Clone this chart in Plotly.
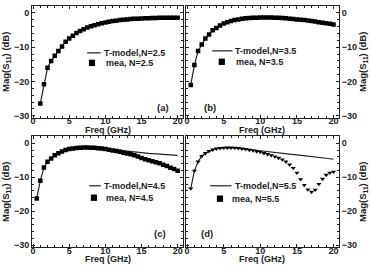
import plotly.graph_objects as go

# ---------------- data ----------------
freq_a = [1, 1.5, 2, 2.5, 3, 3.5, 4, 4.5, 5, 5.5, 6, 6.5, 7, 7.5, 8, 8.5, 9, 9.5, 10,
          10.5, 11, 11.5, 12, 12.5, 13, 13.5, 14, 14.5, 15, 15.5, 16, 16.5, 17, 17.5,
          18, 18.5, 19, 19.5, 20]
mea_a = [-26.4, -20.8, -16.0, -14.0, -12.5, -11.1, -9.8, -8.4, -7.5, -6.7, -5.9, -5.3,
         -4.8, -4.3, -3.9, -3.6, -3.3, -3.0, -2.8, -2.6, -2.4, -2.3, -2.1, -2.0, -1.9,
         -1.8, -1.75, -1.7, -1.65, -1.6, -1.55, -1.5, -1.5, -1.45, -1.45, -1.4, -1.4,
         -1.4, -1.4]
model_a = mea_a

freq_b = [0.5, 1, 1.5, 2, 2.5, 3, 3.5, 4, 4.5, 5, 5.5, 6, 6.5, 7, 7.5, 8, 8.5, 9, 9.5,
          10, 10.5, 11, 11.5, 12, 12.5, 13, 13.5, 14, 14.5, 15, 15.5, 16, 16.5, 17,
          17.5, 18, 18.5, 19, 19.5, 20]
mea_b = [-21.0, -15.2, -11.1, -9.2, -7.5, -6.3, -5.1, -4.4, -3.7, -3.1, -2.7, -2.4,
         -2.1, -1.9, -1.7, -1.6, -1.5, -1.45, -1.4, -1.35, -1.35, -1.35, -1.35, -1.4,
         -1.45, -1.5, -1.6, -1.7, -1.8, -1.9, -2.0, -2.1, -2.25, -2.4, -2.55, -2.7,
         -2.85, -3.0, -3.2, -3.4]
model_b = mea_b

freq_c = freq_b
mea_c = [-16.2, -11.0, -7.1, -5.4, -4.5, -3.5, -2.9, -2.4, -2.0, -1.7, -1.5, -1.4,
         -1.3, -1.25, -1.25, -1.3, -1.35, -1.45, -1.55, -1.7, -1.9, -2.1, -2.3, -2.5,
         -2.75, -3.0, -3.25, -3.55, -3.9, -4.3, -4.7, -5.0, -5.3, -5.6, -5.9, -6.3,
         -6.7, -7.2, -7.6, -8.1]
freq_model_c = [0.5, 1, 1.5, 2, 2.5, 3, 3.5, 4, 4.5, 5, 6, 7, 8, 9, 10, 11, 12, 13, 14,
                15, 16, 17, 18, 19, 20]
model_c = [-16.2, -11.0, -7.1, -5.4, -4.5, -3.5, -2.9, -2.4, -2.0, -1.7, -1.4, -1.25,
           -1.3, -1.4, -1.6, -1.85, -2.1, -2.35, -2.55, -2.75, -2.95, -3.1, -3.25,
           -3.4, -3.55]

freq_d = freq_b
mea_d = [-13.3, -8.1, -5.4, -3.8, -2.9, -2.3, -1.9, -1.6, -1.45, -1.35, -1.3, -1.3,
         -1.35, -1.45, -1.6, -1.75, -1.95, -2.15, -2.4, -2.6, -2.9, -3.2, -3.55, -3.9,
         -4.3, -4.8, -5.4, -6.3, -7.3, -8.7, -10.6, -12.3, -13.6, -14.3, -13.7, -12.0,
         -10.5, -9.3, -8.7, -8.4]
freq_model_d = [0.5, 1, 1.5, 2, 2.5, 3, 3.5, 4, 4.5, 5, 6, 7, 8, 9, 10, 11, 12, 13, 14,
                15, 16, 17, 18, 19, 20]
model_d = [-13.3, -8.1, -5.4, -3.8, -2.9, -2.3, -1.9, -1.6, -1.45, -1.35, -1.3, -1.45,
           -1.7, -1.95, -2.2, -2.5, -2.75, -3.0, -3.2, -3.4, -3.6, -3.85, -4.1, -4.4,
           -4.7]

n_labels = ["2.5", "3.5", "4.5", "5.5"]
panel_labels = ["(a)", "(b)", "(c)", "(d)"]
model_freqs = [freq_a, freq_b, freq_model_c, freq_model_d]
model_vals = [model_a, model_b, model_c, model_d]
mea_freqs = [freq_a, freq_b, freq_c, freq_d]
mea_vals = [mea_a, mea_b, mea_c, mea_d]
symbols = ["square", "square", "square", "triangle-down"]

# ---------------- layout ----------------
W, H = 371, 266
ML, MR, MT, MB = 26, 28, 5, 16
PW, PH = W - ML - MR, H - MT - MB


def xd(a, b):
    return ((a - ML) / PW, (b - ML) / PW)


def yd(top, bottom):
    return ((H - MB - bottom) / PH, (H - MB - top) / PH)


xdom = [xd(26, 182), xd(185, 343)]
row_px = [(5, 117), (136, 247)]
ydom = [yd(*r) for r in row_px]
title_px = [129.5, 259.5]
tick_standoff = [-5, -5]
FONT = "Liberation Sans, Arial, sans-serif"
INK = "#222222"

lab_pos = [(0.87, 0.09), (0.16, 0.09), (0.845, 0.125), (0.14, 0.125)]
# legend sample geometry in axis-domain fractions
leg_geo = [
    dict(lx0=0.365, lx1=0.455, ly=0.58, tx=0.462, sx=0.397, sy=0.49, mx=0.474),
    dict(lx0=0.171, lx1=0.304, ly=0.598, tx=0.31, sx=0.234, sy=0.50, mx=0.316),
    dict(lx0=0.378, lx1=0.455, ly=0.554, tx=0.462, sx=0.41, sy=0.446, mx=0.474),
    dict(lx0=0.158, lx1=0.297, ly=0.554, tx=0.304, sx=0.222, sy=0.4375, mx=0.285),
]

fig = go.Figure()
for i in range(4):
    col, row = i % 2, i // 2
    ax = "" if i == 0 else str(i + 1)
    fig.add_trace(go.Scatter(x=model_freqs[i], y=model_vals[i], mode="lines",
                             line=dict(color=INK, width=1.2),
                             name=f"T-model,N={n_labels[i]}", showlegend=False,
                             xaxis="x" + ax, yaxis="y" + ax))
    fig.add_trace(go.Scatter(x=mea_freqs[i], y=mea_vals[i], mode="markers",
                             marker=dict(symbol=symbols[i], color="black", size=4.5,
                                         line=dict(width=0)),
                             name=f"mea, N={n_labels[i]}", showlegend=False,
                             xaxis="x" + ax, yaxis="y" + ax))
    common = dict(showline=True, linecolor=INK, linewidth=1, mirror="allticks",
                  ticks="inside", ticklen=3, tickcolor=INK, showgrid=False, zeroline=False,
                  tickfont=dict(family=FONT, size=9, color=INK, weight="bold"))
    fig.layout["xaxis" + ax] = dict(
        common, domain=xdom[col], anchor="y" + ax, range=[-0.15, 20.75], dtick=5, tick0=0,
        minor=dict(dtick=1, ticks="inside", ticklen=2, tickcolor=INK),
        ticklabelstandoff=tick_standoff[row])
    fig.layout["yaxis" + ax] = dict(
        common, domain=ydom[row], anchor="x" + ax, range=[-30.5, 2.0], dtick=10, tick0=0,
        side="left" if col == 0 else "right",
        minor=dict(dtick=2, ticks="inside", ticklen=2, tickcolor=INK),
        title=dict(text="Mag(S<sub>11</sub>) (dB)",
                   font=dict(family=FONT, size=9.5, color=INK, weight="bold"), standoff=2))
    # x-axis title placed just under its tick labels
    top, bot = row_px[row]
    fig.add_annotation(text="Freq (GHz)", xref=f"x{ax} domain", yref=f"y{ax} domain",
                       x=0.5, y=-(title_px[row] - bot) / (bot - top),
                       xanchor="center", yanchor="middle", showarrow=False,
                       font=dict(family=FONT, size=9, color=INK, weight="bold"))
    fig.add_annotation(text=panel_labels[i], xref=f"x{ax} domain", yref=f"y{ax} domain",
                       x=lab_pos[i][0], y=lab_pos[i][1], showarrow=False,
                       xanchor="center", yanchor="middle",
                       font=dict(family=FONT, size=9.5, color=INK, weight="bold"))
    # legend
    g = leg_geo[i]
    xr, yr = f"x{ax} domain", f"y{ax} domain"
    pw = (xdom[col][1] - xdom[col][0]) * PW
    ph = (ydom[row][1] - ydom[row][0]) * PH
    fig.add_shape(type="line", xref=xr, yref=yr, x0=g["lx0"], x1=g["lx1"], y0=g["ly"],
                  y1=g["ly"], line=dict(color=INK, width=1.2))
    hw, hh = 3.2 / pw, 3.2 / ph
    fig.add_shape(type="rect", xref=xr, yref=yr, x0=g["sx"] - hw, x1=g["sx"] + hw,
                  y0=g["sy"] - hh, y1=g["sy"] + hh, fillcolor="black", line=dict(width=0))
    fig.add_annotation(text=f"T-model,N={n_labels[i]}", xref=xr, yref=yr, x=g["tx"],
                       y=g["ly"], xanchor="left", yanchor="middle", showarrow=False,
                       font=dict(family=FONT, size=9, color=INK, weight="bold"))
    fig.add_annotation(text=f"mea, N={n_labels[i]}", xref=xr, yref=yr, x=g["mx"],
                       y=g["sy"], xanchor="left", yanchor="middle", showarrow=False,
                       font=dict(family=FONT, size=9, color=INK, weight="bold"))

fig.update_layout(width=W, height=H, margin=dict(l=ML, r=MR, t=MT, b=MB),
                  paper_bgcolor="white", plot_bgcolor="rgba(0,0,0,0)", showlegend=False,
                  font=dict(family=FONT, size=9, color=INK))
fig.write_html("out.html")
